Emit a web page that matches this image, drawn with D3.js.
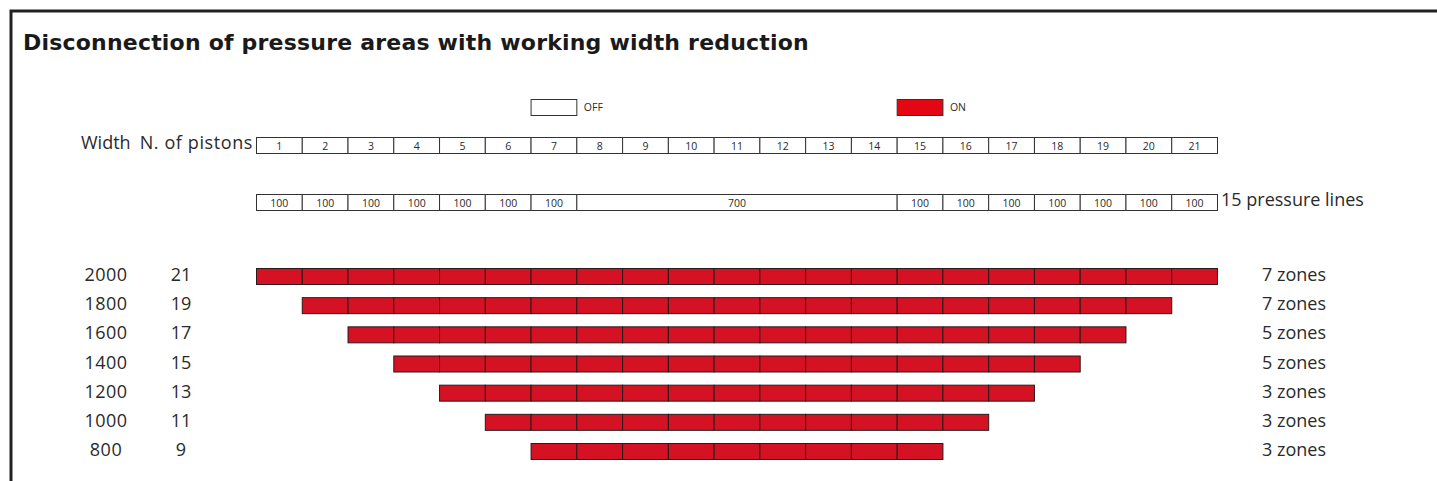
<!DOCTYPE html>
<html>
<head>
<meta charset="utf-8">
<script src="https://cdn.jsdelivr.net/npm/d3@7"></script>
<style>
  body { margin: 0; background: #fff; }
  svg text { font-family: "Open Sans", "DejaVu Sans", sans-serif; fill: #2a2a2a; }
  .title { font-family: "DejaVu Sans", sans-serif; font-weight: bold; font-size: 22px; letter-spacing: 0.2px; fill: #1a1a1a; }
  .label { font-size: 18px; }
  .small { font-size: 10.5px; }
</style>
</head>
<body>
<svg class="js-chart"></svg>
<script>
(() => {
    // piston numbers along the top row
    const pistons = d3.range(1, 22);
    // pressure line groups, value in mm (100 = one piston)
    const pressureLines = [100, 100, 100, 100, 100, 100, 100, 700, 100, 100, 100, 100, 100, 100, 100];
    // working width rows
    const widths = [2000, 1800, 1600, 1400, 1200, 1000, 800];
    const pistonCounts = [21, 19, 17, 15, 13, 11, 9];
    const zones = ['7 zones', '7 zones', '5 zones', '5 zones', '3 zones', '3 zones', '3 zones'];

    const svgWidth = 1437;
    const svgHeight = 481;
    const red = '#d51224';
    const stroke = '#333';

    const svg = d3.select('.js-chart')
        .attr('width', svgWidth)
        .attr('height', svgHeight);

    // frame (top and left edges)
    svg.append('path')
        .attr('d', `M11,${svgHeight} V11 H${svgWidth}`)
        .attr('fill', 'none')
        .attr('stroke', '#222')
        .attr('stroke-width', 3);

    svg.append('text')
        .attr('class', 'title')
        .attr('x', 23)
        .attr('y', 50)
        .text('Disconnection of pressure areas with working width reduction');

    // x scale in piston units
    const x = d3.scaleLinear()
        .domain([0, pistons.length])
        .range([256.5, 1217.5]);
    const cellH = 16;

    // legend
    const legend = [
        { label: 'OFF', fill: '#fff', at: 6 },
        { label: 'ON', fill: '#e30613', at: 14 }
    ];
    const lg = svg.append('g').selectAll('g')
        .data(legend)
        .enter().append('g');
    lg.append('rect')
        .attr('x', d => x(d.at))
        .attr('y', 99.5)
        .attr('width', x(1) - x(0))
        .attr('height', cellH)
        .attr('fill', d => d.fill)
        .attr('stroke', stroke);
    lg.append('text')
        .attr('class', 'small')
        .attr('x', d => x(d.at + 1) + 7)
        .attr('y', 111)
        .text(d => d.label);

    // piston row
    const pistonY = 137.5;
    svg.append('g').selectAll('rect')
        .data(pistons)
        .enter().append('rect')
        .attr('x', (d, i) => x(i))
        .attr('y', pistonY)
        .attr('width', x(1) - x(0))
        .attr('height', cellH)
        .attr('fill', '#fff')
        .attr('stroke', stroke);
    svg.append('g').selectAll('text')
        .data(pistons)
        .enter().append('text')
        .attr('class', 'small')
        .attr('x', (d, i) => x(i + 0.5))
        .attr('y', pistonY + 12)
        .attr('text-anchor', 'middle')
        .text(d => d);

    svg.append('text')
        .attr('class', 'label')
        .attr('x', 81)
        .attr('y', 149)
        .text('Width');
    svg.append('text')
        .attr('class', 'label')
        .attr('x', 253)
        .attr('y', 149)
        .attr('text-anchor', 'end')
        .style('letter-spacing', '0.6px')
        .text('N. of pistons');

    // pressure lines row
    const lineY = 194.5;
    let acc = 0;
    const segs = pressureLines.map(v => {
        const s = { v: v, start: acc, len: v / 100 };
        acc += s.len;
        return s;
    });
    svg.append('g').selectAll('rect')
        .data(segs)
        .enter().append('rect')
        .attr('x', d => x(d.start))
        .attr('y', lineY)
        .attr('width', d => x(d.len) - x(0))
        .attr('height', cellH)
        .attr('fill', '#fff')
        .attr('stroke', stroke);
    svg.append('g').selectAll('text')
        .data(segs)
        .enter().append('text')
        .attr('class', 'small')
        .attr('x', d => x(d.start + d.len / 2))
        .attr('y', lineY + 12)
        .attr('text-anchor', 'middle')
        .text(d => d.v);
    svg.append('text')
        .attr('class', 'label')
        .attr('x', 1221)
        .attr('y', 206)
        .text(pressureLines.length + ' pressure lines');

    // width rows
    const y = d3.scalePoint()
        .domain(widths)
        .range([276, 451]);

    const rows = svg.append('g').selectAll('g')
        .data(widths.map((w, i) => ({ w: w, n: pistonCounts[i], z: zones[i] })))
        .enter().append('g');

    rows.each(function(d) {
        const first = (pistons.length - d.n) / 2;
        d3.select(this).selectAll('rect')
            .data(d3.range(first, first + d.n))
            .enter().append('rect')
            .attr('x', k => x(k))
            .attr('y', y(d.w) - cellH / 2 + 0.5)
            .attr('width', x(1) - x(0))
            .attr('height', cellH)
            .attr('fill', red)
            .attr('stroke', '#2b1a1a');
    });

    rows.append('text')
        .attr('class', 'label')
        .attr('x', 106)
        .attr('y', d => y(d.w) + 5)
        .attr('text-anchor', 'middle')
        .style('letter-spacing', '0.5px')
        .text(d => d.w);
    rows.append('text')
        .attr('class', 'label')
        .attr('x', 181)
        .attr('y', d => y(d.w) + 5)
        .attr('text-anchor', 'middle')
        .text(d => d.n);
    rows.append('text')
        .attr('class', 'label')
        .attr('x', 1262)
        .attr('y', d => y(d.w) + 5)
        .text(d => d.z);
})();
</script>
</body>
</html>
